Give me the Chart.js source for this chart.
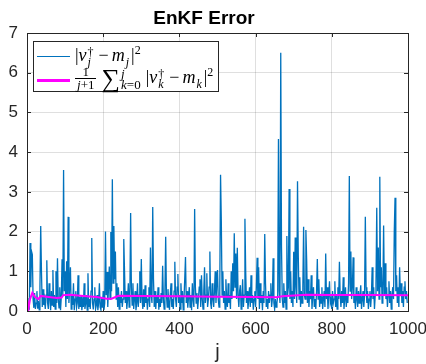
<!DOCTYPE html>
<html>
<head>
<meta charset="utf-8">
<script src="https://cdn.jsdelivr.net/npm/chart.js@4.4.0/dist/chart.umd.min.js"></script>
<style>
  body { margin: 0; background: #fff; }
  #wrap { position: relative; width: 426px; height: 364px; }
  #legend {
    position: absolute; left: 33px; top: 41px; width: 184px; height: 49px;
    border: 1px solid #262626; background: #fff;
    font-family: 'Liberation Serif', 'DejaVu Serif', serif; font-size: 18px; color: #000;
  }
  #legend .row { position: absolute; left: 0; white-space: nowrap; }
  #legend .swatch { position: absolute; left: 3px; width: 33px; }
  #legend .txt { position: absolute; left: 41px; }
  .ss { display: inline-block; vertical-align: middle; line-height: 10px; font-size: 12px; text-align: left; margin: 0 2px 0 1px; }
  .ss span { display: block; }
  .frac { display: inline-block; vertical-align: middle; text-align: center; font-size: 13px; line-height: 12px; margin-right: 5px; }
  .frac .num { display: block; border-bottom: 0.8px solid #000; padding: 0 2px; }
  .frac .den { display: block; padding: 0 2px; }
  .sum { font-size: 26px; vertical-align: middle; line-height: 20px; }
  .lim { display: inline-block; vertical-align: middle; line-height: 11px; font-size: 13px; text-align: left; margin: 0 5px 0 1px; }
  .lim span { display: block; }
  .mn { margin: 0 3px; }
  .sq { font-size: 12px; vertical-align: 7px; }
</style>
</head>
<body>
<div id="wrap">
  <canvas id="errChart" width="426" height="364"></canvas>
  <div id="legend">
    <div class="row" style="top:1px; height:22px;">
      <span class="swatch" style="top:13px; border-top:1px solid #0072BD;"></span>
      <span class="txt" style="top:0px;">|<i>v</i><span class="ss"><span>†</span><span><i>j</i></span></span><span class="mn">−</span><i>m</i><span class="ss"><span>&nbsp;</span><span><i>j</i></span></span>|<span class="sq">2</span></span>
    </div>
    <div class="row" style="top:24px; height:26px;">
      <span class="swatch" style="top:13px; border-top:3px solid #FF00FF;"></span>
      <span class="txt" style="top:-1px;"><span class="frac"><span class="num">1</span><span class="den"><i>j</i>+1</span></span><span class="sum">∑</span><span class="lim"><span><i>j</i></span><span><i>k</i>=0</span></span>|<i>v</i><span class="ss"><span>†</span><span><i>k</i></span></span><span class="mn">−</span><i>m</i><span class="ss"><span>&nbsp;</span><span><i>k</i></span></span>|<span class="sq">2</span></span>
    </div>
  </div>
</div>
<script>
// blue series: |v_j - m_j|^2, one value every 2 steps of j (j = 0, 2, ..., 998)
const stepJ = 2;
const errValues = [
  0.33, 0.01, 0.02, 0.05, 1.71, 0.6, 1.5, 1.42, 0.3, 0.08, 0.45, 0.05, 0.2, 0.5, 0.06, 0.25, 0.03, 0.6, 2.14, 0.98, 0.1, 0.55, 0.15, 0.3, 0.05,
  0.4, 1.28, 0.2, 0.05, 0.7, 0.3, 0.02, 0.5, 0.15, 1.03, 0.1, 0.4, 0.05, 1.0, 0.2, 1.33, 0.3, 0.08, 0.6, 0.02, 0.35, 1.3, 0.4, 3.55, 0.5,
  1.0, 0.1, 1.25, 0.3, 2.37, 0.2, 0.6, 1.1, 0.05, 0.4, 0.15, 0.7, 0.02, 0.3, 0.5, 0.08, 0.2, 0.9, 0.05, 0.35, 0.1, 0.4, 0.02, 0.25, 0.1,
  0.7, 0.05, 0.2, 0.4, 0.02, 0.95, 0.1, 0.3, 0.05, 0.5, 1.84, 0.2, 0.04, 0.3, 0.6, 0.05, 0.15, 0.4, 0.02, 0.2, 0.7, 0.1, 0.03, 0.35, 0.08,
  0.5, 0.03, 0.2, 2.0, 0.4, 0.98, 0.1, 0.6, 1.12, 0.3, 1.99, 0.5, 3.32, 0.7, 2.14, 0.8, 1.5, 0.3, 0.7, 0.1, 0.6, 0.05, 0.4, 0.2, 0.5,
  0.1, 0.3, 1.81, 1.0, 0.2, 0.5, 0.05, 0.3, 0.7, 0.1, 0.4, 2.47, 0.6, 0.15, 0.7, 0.05, 0.3, 0.5, 0.02, 0.2, 0.7, 0.1, 0.4, 1.0, 0.2,
  1.31, 0.3, 0.05, 0.55, 0.1, 0.65, 0.2, 0.4, 0.03, 0.3, 0.6, 0.1, 1.6, 0.4, 0.2, 2.62, 0.8, 0.1, 0.5, 0.05, 0.4, 0.2, 0.6, 0.03, 0.3,
  0.1, 0.45, 0.2, 1.14, 0.3, 0.05, 0.5, 1.87, 0.4, 0.1, 0.55, 0.2, 0.03, 0.4, 0.7, 0.1, 0.3, 0.05, 0.5, 1.24, 0.3, 0.1, 0.6, 0.93, 0.2,
  0.4, 0.05, 0.7, 0.2, 0.5, 0.03, 0.3, 0.8, 1.36, 0.2, 0.5, 0.08, 0.35, 0.6, 0.1, 0.4, 0.02, 0.7, 0.3, 0.1, 2.57, 0.6, 0.2, 0.45, 0.05,
  0.3, 0.6, 0.8, 0.1, 0.9, 0.3, 0.05, 0.5, 1.1, 0.2, 0.4, 0.95, 0.1, 0.3, 0.6, 1.5, 0.2, 0.05, 0.7, 0.3, 0.1, 0.5, 1.0, 0.2, 0.7,
  1.03, 0.3, 0.1, 0.6, 3.43, 2.28, 0.4, 1.0, 0.2, 0.5, 0.05, 0.8, 0.3, 0.1, 0.7, 0.2, 0.4, 0.05, 1.0, 0.3, 1.2, 0.5, 1.96, 0.6, 1.45,
  0.3, 1.59, 0.4, 0.1, 0.5, 0.65, 0.05, 0.3, 0.8, 0.1, 0.4, 2.32, 1.0, 0.2, 0.5, 0.05, 0.3, 0.6, 0.1, 0.9, 0.2, 0.4, 0.03, 0.3, 0.5,
  0.1, 0.6, 1.34, 0.3, 1.1, 0.05, 0.7, 0.2, 0.4, 0.02, 0.5, 0.2, 1.94, 0.7, 0.1, 0.3, 0.05, 0.5, 0.2, 0.4, 0.7, 0.1, 0.3, 1.33, 0.2,
  0.05, 0.3, 0.1, 0.2, 0.4, 4.33, 0.5, 0.2, 6.5, 1.6, 0.3, 0.1, 0.7, 0.2, 0.5, 0.05, 1.89, 0.4, 0.6, 3.07, 0.3, 1.0, 0.2, 0.5, 0.1,
  1.49, 0.3, 1.85, 0.6, 0.2, 3.27, 1.4, 0.3, 0.85, 0.1, 0.5, 0.2, 0.6, 2.12, 0.4, 0.3, 2.04, 1.3, 0.2, 0.8, 0.1, 0.5, 0.3, 0.9, 0.05,
  0.4, 0.6, 0.1, 0.3, 0.05, 0.5, 1.31, 0.3, 0.8, 0.1, 0.4, 0.2, 0.6, 0.05, 0.3, 0.5, 0.1, 1.45, 0.3, 0.6, 0.05, 0.4, 0.75, 0.2, 0.3,
  0.05, 0.5, 0.2, 0.3, 0.75, 0.1, 0.4, 0.05, 0.6, 0.3, 1.24, 0.4, 0.1, 0.5, 0.2, 0.85, 0.05, 0.3, 0.6, 0.1, 0.4, 0.2, 0.7, 3.4, 0.5,
  1.5, 0.3, 0.6, 1.35, 0.2, 0.4, 0.05, 0.6, 0.3, 0.1, 0.5, 0.2, 0.4, 0.65, 0.05, 0.3, 0.5, 0.1, 0.4, 2.37, 0.6, 0.2, 0.5, 0.05, 0.3,
  0.5, 0.1, 0.4, 1.1, 0.3, 0.6, 0.05, 0.4, 0.7, 2.6, 0.5, 1.6, 0.3, 3.38, 0.6, 1.1, 0.2, 0.5, 2.15, 0.4, 1.2, 0.3, 0.6, 0.1, 0.4,
  0.75, 0.2, 0.5, 0.05, 0.4, 0.6, 0.3, 2.02, 2.85, 0.5, 0.9, 0.2, 0.6, 0.1, 1.1, 0.4, 0.7, 0.2, 0.5, 0.1, 0.6, 0.75, 0.3, 0.5, 0.2
];

// magenta series: running mean, read at a few j positions
const meanJ = [0, 4, 8, 14, 21, 30, 36, 52, 78, 91, 95, 113, 148, 183, 209, 222, 240, 300, 400, 500, 600, 655, 670, 700, 734, 800, 900, 1000];
const meanValues = [0.3, 0.07, 0.3, 0.46, 0.35, 0.3, 0.38, 0.36, 0.33, 0.34, 0.4, 0.41, 0.38, 0.35, 0.31, 0.31, 0.385, 0.38, 0.37, 0.36, 0.35, 0.345, 0.37, 0.39, 0.41, 0.4, 0.4, 0.395];

const xTicks = [0, 200, 400, 600, 800, 1000];
const yTicks = [0, 1, 2, 3, 4, 5, 6, 7];

const axisColor = '#262626';
const gridColor = 'rgba(38,38,38,0.15)';

const errPoints = errValues.map((v, i) => ({ x: i * stepJ, y: v }));
const meanPoints = meanValues.map((v, i) => ({ x: meanJ[i], y: v }));

// box round the axes and inward tick marks, like matlab
const boxTicks = {
  id: 'boxTicks',
  beforeDatasetsDraw(chart) {
    const { ctx, chartArea: a, scales } = chart;
    ctx.save();
    ctx.strokeStyle = axisColor;
    ctx.lineWidth = 1;
    ctx.beginPath();
    xTicks.forEach(t => {
      const px = Math.round(scales.x.getPixelForValue(t)) + 0.5;
      ctx.moveTo(px, a.bottom); ctx.lineTo(px, a.bottom - 4);
      ctx.moveTo(px, a.top); ctx.lineTo(px, a.top + 4);
    });
    yTicks.forEach(t => {
      const py = Math.round(scales.y.getPixelForValue(t)) + 0.5;
      ctx.moveTo(a.left, py); ctx.lineTo(a.left + 4, py);
      ctx.moveTo(a.right, py); ctx.lineTo(a.right - 4, py);
    });
    ctx.stroke();
    ctx.restore();
  },
  afterDraw(chart) {
    const { ctx, chartArea: a } = chart;
    ctx.save();
    ctx.strokeStyle = axisColor;
    ctx.lineWidth = 1;
    ctx.strokeRect(Math.round(a.left) + 0.5, Math.round(a.top) + 0.5,
      Math.round(a.right - a.left), Math.round(a.bottom - a.top));
    ctx.restore();
  }
};

new Chart(document.getElementById('errChart'), {
  type: 'line',
  data: {
    datasets: [
      {
        label: 'mean',
        data: meanPoints,
        borderColor: '#FF00FF',
        borderWidth: 2,
        pointRadius: 0,
        tension: 0,
        order: 0
      },
      {
        label: 'err',
        data: errPoints,
        borderColor: '#0072BD',
        borderWidth: 1.3,
        pointRadius: 0,
        tension: 0,
        order: 1
      }
    ]
  },
  options: {
    responsive: false,
    animation: false,
    layout: { padding: { left: 0, right: 18, top: 0, bottom: 0 } },
    plugins: {
      legend: { display: false },
      tooltip: { enabled: false },
      title: {
        display: true,
        text: 'EnKF Error',
        color: '#000',
        font: { family: 'Liberation Sans, Arial, sans-serif', size: 19, weight: 'bold' },
        padding: { top: 7, bottom: 3.2 }
      }
    },
    scales: {
      x: {
        type: 'linear',
        min: 0,
        max: 1000,
        afterFit: s => { s.height = 53; s.paddingLeft = 0; s.paddingRight = 0; },
        afterBuildTicks: s => { s.ticks = xTicks.map(v => ({ value: v })); },
        ticks: {
          color: axisColor,
          padding: 8,
          maxRotation: 0,
          callback: v => String(v),
          font: { family: 'Liberation Sans, Arial, sans-serif', size: 17 }
        },
        grid: { color: gridColor, drawTicks: false },
        border: { color: axisColor },
        title: {
          display: true,
          text: 'j',
          color: axisColor,
          padding: { top: 2, bottom: 0 },
          font: { family: 'Liberation Sans, Arial, sans-serif', size: 20 }
        }
      },
      y: {
        min: 0,
        max: 7,
        afterFit: s => { s.width = 27; s.paddingTop = 0; s.paddingBottom = 0; },
        afterBuildTicks: s => { s.ticks = yTicks.map(v => ({ value: v })); },
        ticks: {
          color: axisColor,
          padding: 9,
          font: { family: 'Liberation Sans, Arial, sans-serif', size: 17 }
        },
        grid: { color: gridColor, drawTicks: false },
        border: { color: axisColor }
      }
    }
  },
  plugins: [boxTicks]
});
</script>
</body>
</html>
